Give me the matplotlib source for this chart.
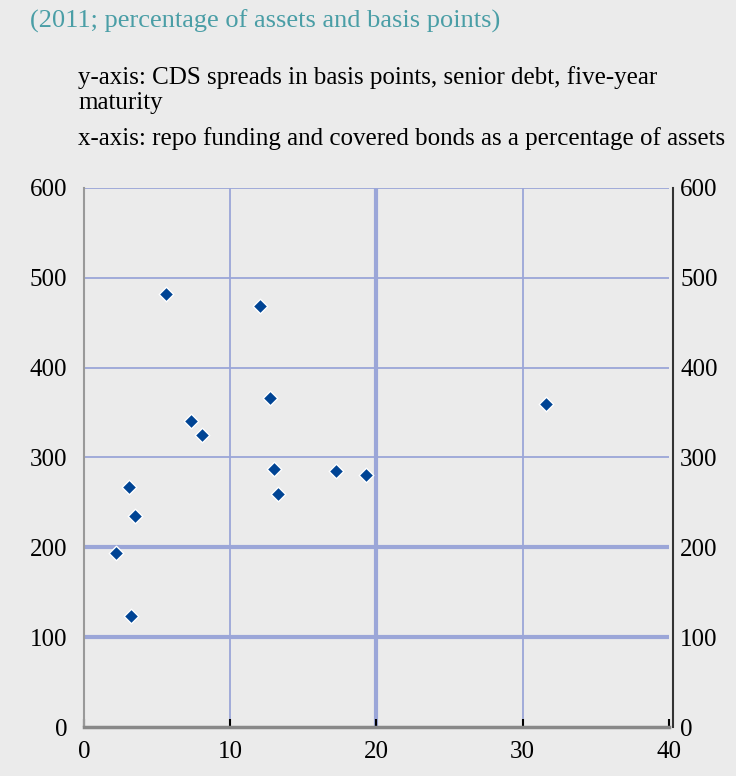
import matplotlib.pyplot as plt

plt.rcParams['font.family'] = ['Liberation Serif', 'DejaVu Serif']

# repo funding and covered bonds, % of assets
repo_pct = [5.6, 12.05, 12.7, 7.3, 8.1, 13.0, 17.2, 19.3, 13.3, 3.06, 3.5, 2.2, 3.25, 31.6]
# CDS spreads, basis points
cds_bp = [482, 468, 366, 340, 325, 287, 285, 280, 259, 267, 235, 194, 124, 359]

x_ticks = [0, 10, 20, 30, 40]
y_ticks = [0, 100, 200, 300, 400, 500, 600]

bg = '#ebebeb'
grid_col = '#9ba6d8'

fig = plt.figure(figsize=(7.36, 7.76), dpi=100, facecolor=bg)
ax = fig.add_axes([0.114, 0.063, 0.795, 0.695], facecolor=bg)

fig.text(0.041, 0.972, '(2011; percentage of assets and basis points)',
         color='#4a9ea6', fontsize=19, va='center', ha='left')
fig.text(0.106, 0.900, 'y-axis: CDS spreads in basis points, senior debt, five-year',
         fontsize=18, va='center', ha='left')
fig.text(0.106, 0.867, 'maturity', fontsize=18, va='center', ha='left')
fig.text(0.106, 0.822, 'x-axis: repo funding and covered bonds as a percentage of assets',
         fontsize=18, va='center', ha='left')

# gridlines, some heavier
for yv in y_ticks[1:]:
    lw = 3 if yv in (100, 200) else 1.3
    ax.axhline(yv, color=grid_col, lw=lw, zorder=1)
for xv in x_ticks[1:-1]:
    lw = 3 if xv == 20 else 1.3
    ax.axvline(xv, color=grid_col, lw=lw, zorder=1)

ax.scatter(repo_pct, cds_bp, marker='D', s=55, color='#004494',
           edgecolors='white', linewidths=1.0, zorder=3)

ax.set_xlim(0, 40)
ax.set_ylim(0, 600)
ax.set_xticks(x_ticks)
ax.set_yticks(y_ticks)
ax.tick_params(axis='both', labelsize=18, length=0, pad=12)
ax.tick_params(axis='x', length=6, width=1.5, color='black', direction='in', pad=10)

ax.spines['top'].set_visible(False)
ax.spines['left'].set_color('#999999')
ax.spines['left'].set_linewidth(1.5)
ax.spines['bottom'].set_color('#888888')
ax.spines['bottom'].set_linewidth(2.5)
ax.spines['right'].set_color('#333333')
ax.spines['right'].set_linewidth(1.5)
ax.spines['right'].set_position(('outward', 3))

ax2 = ax.twinx()
ax2.set_ylim(0, 600)
ax2.set_yticks(y_ticks)
ax2.tick_params(axis='y', labelsize=18, length=0, pad=8)
for s in ['top', 'left', 'bottom', 'right']:
    ax2.spines[s].set_visible(False)

plt.savefig('out.png', dpi=100, facecolor=bg)
